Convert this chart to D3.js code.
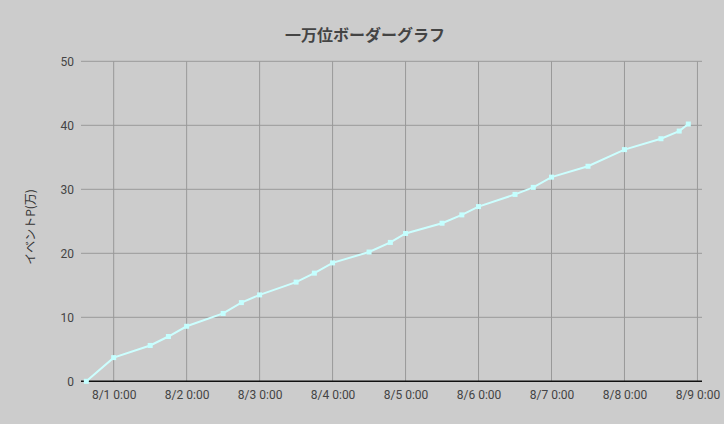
<!DOCTYPE html>
<html>
<head>
<meta charset="utf-8">
<script src="https://cdn.jsdelivr.net/npm/d3@7"></script>
<style>
	body { margin: 0; background: #cccccc; }
	svg { display: block; }
</style>
</head>
<body>
<script>
// border points (time of day, value in 万)
const times = [
	"07/31 15:00", "08/01 00:00", "08/01 12:00", "08/01 18:00",
	"08/02 00:00", "08/02 12:00", "08/02 18:00",
	"08/03 00:00", "08/03 12:00", "08/03 18:00",
	"08/04 00:00", "08/04 12:00", "08/04 19:00",
	"08/05 00:00", "08/05 12:00", "08/05 18:30",
	"08/06 00:00", "08/06 12:00", "08/06 18:00",
	"08/07 00:00", "08/07 12:00",
	"08/08 00:00", "08/08 12:00", "08/08 18:00", "08/08 21:00"
];
const points = [
	0, 3.7, 5.6, 7.0,
	8.6, 10.6, 12.3,
	13.5, 15.5, 16.9,
	18.5, 20.2, 21.7,
	23.1, 24.7, 26.0,
	27.3, 29.2, 30.3,
	31.9, 33.6,
	36.2, 37.9, 39.1, 40.2
];
const xTicks = ["08/01 00:00", "08/02 00:00", "08/03 00:00", "08/04 00:00",
	"08/05 00:00", "08/06 00:00", "08/07 00:00", "08/08 00:00", "08/09 00:00"];
const yTicks = [0, 10, 20, 30, 40, 50];
const title = "一万位ボーダーグラフ";
const yTitle = "イベントP(万)";

const width = 724,
	height = 424;

const parse = d3.timeParse("%m/%d %H:%M");
const data = times.map((t, i) => ({t: parse(t), v: points[i]}));

const x = d3.scaleTime()
	.domain([parse("07/31 13:15"), parse("08/09 01:30")])
	.range([81, 702]);
const y = d3.scaleLinear().domain([0, 50]).range([381.3, 61.3]);

const svg = d3.select("body").append("svg")
	.attr("width", width)
	.attr("height", height);

svg.append("rect").attr("width", width).attr("height", height).attr("fill", "#cccccc");

// grid
svg.append("g")
	.selectAll("line.h")
	.data(yTicks.filter(d => d > 0))
	.join("line")
	.attr("x1", x.range()[0]).attr("x2", x.range()[1])
	.attr("y1", d => y(d)).attr("y2", d => y(d))
	.attr("stroke", "#999").attr("stroke-width", 1);

svg.append("g")
	.selectAll("line.v")
	.data(xTicks.map(parse))
	.join("line")
	.attr("x1", d => x(d)).attr("x2", d => x(d))
	.attr("y1", y(50)).attr("y2", y(0))
	.attr("stroke", "#999").attr("stroke-width", 1);

// axes
const yAxis = d3.axisLeft(y).tickValues(yTicks).tickSize(0).tickPadding(7);
const gy = svg.append("g").attr("transform", `translate(${x.range()[0]},0)`).call(yAxis);
gy.select(".domain").remove();
gy.selectAll("text")
	.attr("fill", "#444")
	.style("font", "12px Roboto, 'Noto Sans', sans-serif");

const xAxis = d3.axisBottom(x).tickValues(xTicks.map(parse))
	.tickFormat(d3.timeFormat("%-m/%-d %-H:%M")).tickSize(0).tickPadding(9);
const gx = svg.append("g").attr("transform", `translate(0,${y(0)})`).call(xAxis);
gx.select(".domain").remove();
gx.selectAll("text")
	.attr("fill", "#444")
	.style("font", "12px Roboto, 'Noto Sans', sans-serif");

svg.append("line")
	.attr("x1", x.range()[0]).attr("x2", x.range()[1])
	.attr("y1", y(0)).attr("y2", y(0))
	.attr("stroke", "#111").attr("stroke-width", 1.5);

// series
const line = d3.line().x(d => x(d.t)).y(d => y(d.v));
svg.append("path")
	.datum(data)
	.attr("d", line)
	.attr("fill", "none")
	.attr("stroke", "#ccffff")
	.attr("stroke-width", 2);

svg.append("g")
	.selectAll("rect")
	.data(data)
	.join("rect")
	.attr("x", d => x(d.t) - 2.5)
	.attr("y", d => y(d.v) - 2.5)
	.attr("width", 5).attr("height", 5)
	.attr("fill", "#c4ffff");

// titles
svg.append("text")
	.attr("x", 365).attr("y", 41)
	.attr("text-anchor", "middle")
	.attr("fill", "#444")
	.style("font", "bold 16px 'Noto Sans CJK JP', sans-serif")
	.text(title);

svg.append("text")
	.attr("transform", "translate(35,227) rotate(-90)")
	.attr("text-anchor", "middle")
	.attr("fill", "#333")
	.style("font", "12px 'Noto Sans CJK JP', sans-serif")
	.text(yTitle);
</script>
</body>
</html>
